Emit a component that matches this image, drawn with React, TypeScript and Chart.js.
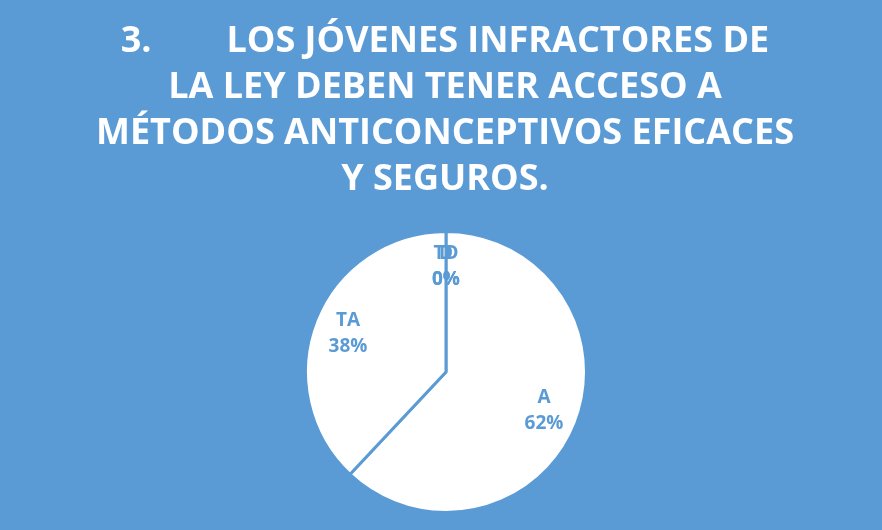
import React, { useEffect, useRef } from "react";
import { Chart, registerables } from "chart.js";

Chart.register(...registerables);

const TITLE_LINES = [
  "3.        LOS JÓVENES INFRACTORES DE",
  "LA LEY DEBEN TENER ACCESO A",
  "MÉTODOS ANTICONCEPTIVOS EFICACES",
  "Y SEGUROS.",
];
const CATEGORIES = ["A", "TA", "D", "TD"];
const VALUES = [62, 38, 0, 0];

const BG = "#5B9BD5";

const bgPlugin = {
  id: "bg",
  beforeDraw(chart: any) {
    const ctx = chart.ctx;
    ctx.save();
    ctx.fillStyle = BG;
    ctx.fillRect(0, 0, chart.width, chart.height);
    ctx.restore();
  },
};

const titlePlugin = {
  id: "customTitle",
  afterDraw(chart: any) {
    const ctx = chart.ctx;
    ctx.save();
    ctx.fillStyle = "#FFFFFF";
    ctx.font = "bold 36px 'Open Sans'";
    ctx.textAlign = "center";
    ctx.textBaseline = "alphabetic";
    const baselines = [52, 98, 144, 190];
    TITLE_LINES.forEach((line, i) => {
      ctx.fillText(line, 445, baselines[i]);
    });
    ctx.restore();
  },
};

const labelPlugin = {
  id: "sliceLabels",
  afterDatasetsDraw(chart: any) {
    const ctx = chart.ctx;
    const meta = chart.getDatasetMeta(0);
    const data = chart.data.datasets[0].data as number[];
    const total = data.reduce((a, b) => a + b, 0);
    ctx.save();
    ctx.fillStyle = BG;
    ctx.font = "bold 19px 'Open Sans'";
    ctx.textAlign = "center";
    ctx.textBaseline = "middle";
    meta.data.forEach((arc: any, i: number) => {
      const { x, y, startAngle, endAngle, outerRadius } = arc.getProps(
        ["x", "y", "startAngle", "endAngle", "outerRadius"],
        true
      );
      const mid = (startAngle + endAngle) / 2;
      const r = outerRadius * 0.75;
      const lx = x + Math.cos(mid) * r;
      const ly = y + Math.sin(mid) * r;
      const pct = Math.round((data[i] / total) * 100) + "%";
      ctx.fillText(String(chart.data.labels[i]), lx, ly - 13);
      ctx.fillText(pct, lx, ly + 13);
    });
    ctx.restore();
  },
};

export default function App() {
  const ref = useRef<HTMLCanvasElement>(null);
  useEffect(() => {
    document.body.style.margin = "0";
    const chart = new Chart(ref.current as HTMLCanvasElement, {
      type: "pie",
      data: {
        labels: CATEGORIES,
        datasets: [
          {
            data: VALUES,
            backgroundColor: "#FFFFFF",
            borderColor: BG,
            borderWidth: 3,
          },
        ],
      },
      options: {
        responsive: false,
        animation: false,
        devicePixelRatio: 1,
        layout: { padding: { top: 230, bottom: 16, left: 10, right: 0 } },
        plugins: {
          legend: { display: false },
          title: { display: false },
          tooltip: { enabled: false },
        },
      },
      plugins: [bgPlugin, titlePlugin, labelPlugin],
    });
    return () => chart.destroy();
  }, []);
  return (
    <div style={{ position: "fixed", left: 0, top: 0, width: 882, height: 530 }}>
      <canvas ref={ref} width={882} height={530} />
    </div>
  );
}
